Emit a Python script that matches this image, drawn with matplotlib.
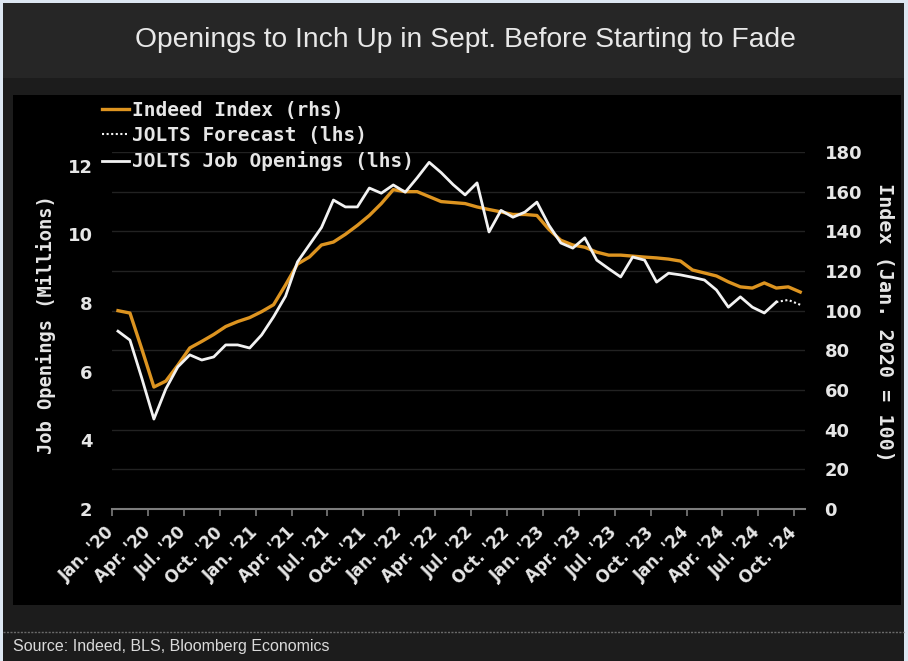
import numpy as np
import matplotlib.pyplot as plt
from matplotlib.patches import Rectangle
from matplotlib.lines import Line2D

# monthly values, Jan 2020 .. Oct 2024
jolts = [7.18, 6.92, 5.80, 4.62, 5.50, 6.14, 6.49, 6.34, 6.43, 6.78, 6.78, 6.69,
         7.07, 7.60, 8.20, 9.20, 9.70, 10.20, 11.00, 10.80, 10.80, 11.35, 11.20, 11.44,
         11.23, 11.65, 12.10, 11.80, 11.45, 11.15, 11.50, 10.07, 10.70, 10.50, 10.65, 10.94,
         10.27, 9.75, 9.60, 9.90, 9.25, 9.00, 8.76, 9.34, 9.25, 8.61, 8.87, 8.82,
         8.75, 8.67, 8.38, 7.88, 8.18, 7.88, 7.71, 8.03]
jolts_forecast = [8.03, 8.09, 7.95]
indeed = [100.0, 98.8, 80.5, 61.5, 64.5, 72.5, 81.2, 84.5, 88.0, 92.0, 94.5, 96.5,
          99.5, 103.0, 113.0, 123.5, 127.1, 133.1, 134.6, 138.5, 143.0, 148.0, 154.0, 161.0,
          160.0, 160.0, 157.5, 155.0, 154.5, 154.0, 152.3, 151.0, 149.8, 148.5, 148.5, 148.0,
          141.0, 135.5, 133.1, 132.0, 129.5, 128.0, 128.0, 127.5, 127.0, 126.6, 126.0, 125.0,
          120.5, 119.0, 117.5, 114.5, 112.0, 111.4, 114.0, 111.4, 112.0, 109.4]
tick_labels = ["Jan. '20", "Apr. '20", "Jul. '20", "Oct. '20",
               "Jan. '21", "Apr. '21", "Jul. '21", "Oct. '21",
               "Jan. '22", "Apr. '22", "Jul. '22", "Oct. '22",
               "Jan. '23", "Apr. '23", "Jul. '23", "Oct. '23",
               "Jan. '24", "Apr. '24", "Jul. '24", "Oct. '24"]
left_ticks = [2, 4, 6, 8, 10, 12]
right_ticks = [0, 20, 40, 60, 80, 100, 120, 140, 160, 180]

W, H = 908, 661
ORANGE = '#dd9420'
WHITE = '#f2f2f2'
TXT = '#e6e6e6'
MONO = ['DejaVu Sans Mono']
SANS = ['Liberation Sans', 'DejaVu Sans']

fig = plt.figure(figsize=(W / 100, H / 100), dpi=100)
fig.patch.set_facecolor('#dde7f2')


def box(x0, y0, x1, y1, color):
    fig.add_artist(Rectangle((x0 / W, 1 - y1 / H), (x1 - x0) / W, (y1 - y0) / H,
                             transform=fig.transFigure, facecolor=color,
                             edgecolor='none', zorder=-10))


box(3, 3, 904, 661, '#1c1c1c')
box(3, 3, 904, 78, '#262626')
box(13, 95, 901, 605, '#000000')
fig.add_artist(Line2D([3 / W, 904 / W], [1 - 632 / H] * 2, transform=fig.transFigure,
                      color='#6a6a6a', lw=1, ls=(0, (1.5, 1)), zorder=-5))

fig.text(465 / W, 1 - 40 / H, 'Openings to Inch Up in Sept. Before Starting to Fade',
         ha='center', va='center', fontsize=20.3, color='#e8e8e8', family=SANS)
fig.text(13 / W, 1 - 646 / H, 'Source: Indeed, BLS, Bloomberg Economics',
         ha='left', va='center', fontsize=11.5, color='#dadada', family=SANS)

ax = fig.add_axes([112 / W, 1 - 509 / H, 693 / W, 357 / H])
ax2 = ax.twinx()
ax.set_zorder(ax2.get_zorder() + 1)
ax.patch.set_visible(False)
ax2.patch.set_visible(False)

xm = np.arange(len(indeed)) + 0.5
n = len(jolts)
l_ind, = ax2.plot(xm, indeed, color=ORANGE, lw=2.4, solid_joinstyle='round')
l_jo, = ax.plot(xm[:n], jolts, color=WHITE, lw=2.0, solid_joinstyle='round')
l_fc, = ax.plot(xm[n - 1:n - 1 + len(jolts_forecast)], jolts_forecast, color=WHITE,
                lw=1.5, ls=(0, (1, 1.2)))

ax.set_xlim(0, 57.9)
ax.set_ylim(2, 12.4)
ax2.set_ylim(0, 180)

for a in (ax, ax2):
    for s in a.spines.values():
        s.set_visible(False)
ax.spines['bottom'].set_visible(True)
ax.spines['bottom'].set_color('#7c7c7c')
ax.spines['bottom'].set_linewidth(1.5)

ax2.set_yticks(right_ticks)
ax2.yaxis.grid(True, color='#222222', lw=1)
ax2.set_axisbelow(True)

ax.set_yticks(left_ticks)
ax.set_xticks(np.arange(0, 58, 3))
ax.set_xticklabels(tick_labels, rotation=45, ha='right', va='center',
                   rotation_mode='anchor')
ax.tick_params(axis='x', colors='#7c7c7c', length=5, width=1.2, pad=10,
               labelcolor=TXT, labelsize=12)
ax.tick_params(axis='y', length=0, pad=14, labelcolor=TXT, labelsize=13)
ax2.tick_params(axis='y', length=0, pad=14, labelcolor=TXT, labelsize=13)
for lab in ax.get_xticklabels() + ax.get_yticklabels() + ax2.get_yticklabels():
    lab.set_fontweight('bold')

fig.text(46 / W, 1 - 325 / H, 'Job Openings (Millions)', rotation=90, ha='center',
         va='center', fontsize=13.5, fontweight='bold', color=TXT, family=MONO)
fig.text(884 / W, 1 - 322 / H, 'Index (Jan. 2020 = 100)', rotation=270, ha='center',
         va='center', fontsize=14.5, fontweight='bold', color=TXT, family=MONO)

leg = ax.legend(handles=[l_ind, l_fc, l_jo],
                labels=['Indeed Index (rhs)', 'JOLTS Forecast (lhs)', 'JOLTS Job Openings (lhs)'],
                loc='upper left', bbox_to_anchor=(102 / W, 1 - 101 / H),
                bbox_transform=fig.transFigure, frameon=False,
                prop={'family': MONO, 'weight': 'bold', 'size': 14},
                labelcolor=TXT, handlelength=1.4, handletextpad=0.15,
                labelspacing=0.32, borderpad=0, borderaxespad=0)

fig.savefig('out.png', dpi=100, facecolor=fig.get_facecolor())
